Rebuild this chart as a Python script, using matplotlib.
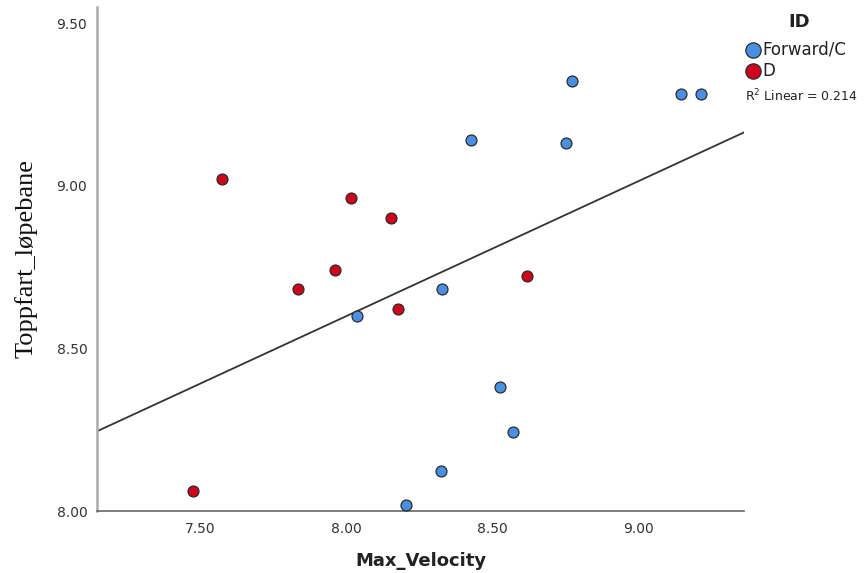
import matplotlib
matplotlib.use("Agg")
import matplotlib.pyplot as plt
import numpy as np

# Forward/C players
fwd_vel = [8.036, 8.203, 8.323, 8.326, 8.426, 8.525, 8.57, 8.752, 8.772, 9.145, 9.214]
fwd_top = [8.60, 8.02, 8.123, 8.683, 9.14, 8.38, 8.243, 9.132, 9.323, 9.283, 9.283]

# D players
d_vel = [7.474, 7.572, 7.833, 7.96, 8.015, 8.152, 8.175, 8.617]
d_top = [8.062, 9.022, 8.683, 8.742, 8.963, 8.90, 8.62, 8.723]

xticks = [7.5, 8.0, 8.5, 9.0]
yticks = [8.0, 8.5, 9.0, 9.5]

blue = '#4a90e2'
red = '#d0021b'

fig = plt.figure(figsize=(8.66, 5.73), dpi=100)
ax = fig.add_axes([0.112, 0.108, 0.747, 0.880])

ax.scatter(fwd_vel, fwd_top, s=62, c=blue, edgecolors='#2b2b2b', linewidths=0.9, zorder=3)
ax.scatter(d_vel, d_top, s=62, c=red, edgecolors='#2b2b2b', linewidths=0.9, zorder=3)

# linear fit on all points
allx = np.array(fwd_vel + d_vel)
ally = np.array(fwd_top + d_top)
k, m = np.polyfit(allx, ally, 1)
xl = np.array([7.145, 9.36])
ax.plot(xl, k * xl + m, color='#333333', lw=1.3, zorder=2)

ax.set_xlim(7.145, 9.36)
ax.set_ylim(8.0, 9.55)
ax.set_xticks(xticks)
ax.set_yticks(yticks)
ax.set_xticklabels(['%.2f' % v for v in xticks])
ax.set_yticklabels(['%.2f' % v for v in yticks])
ax.tick_params(axis='x', length=0, labelsize=10, colors='#333333', pad=8)
ax.tick_params(axis='y', length=0, labelsize=10, colors='#333333', pad=7)

for s in ['top', 'right']:
    ax.spines[s].set_visible(False)
ax.spines['left'].set_color('#aaaaaa')
ax.spines['left'].set_linewidth(1.8)
ax.spines['bottom'].set_color('#666666')
ax.spines['bottom'].set_linewidth(1.2)

ax.set_xlabel('Max_Velocity', fontsize=13, fontweight='bold', color='#222222', labelpad=11)
ax.set_ylabel('Toppfart_løpebane', fontsize=19, family='Liberation Serif', color='#111111', labelpad=14)

# legend built by hand
fig.text(799 / 866, 1 - 22 / 573, 'ID', fontsize=13, fontweight='bold', ha='center', va='center', color='#222222')
fig.lines.append(plt.Line2D([753 / 866], [1 - 50 / 573], marker='o', ms=11, mfc=blue, mec='#2b2b2b', mew=0.9,
                            transform=fig.transFigure, linestyle='none'))
fig.lines.append(plt.Line2D([753 / 866], [1 - 71 / 573], marker='o', ms=11, mfc=red, mec='#2b2b2b', mew=0.9,
                            transform=fig.transFigure, linestyle='none'))
fig.text(762 / 866, 1 - 50 / 573, 'Forward/C', fontsize=12, ha='left', va='center', color='#222222')
fig.text(762 / 866, 1 - 71 / 573, 'D', fontsize=12, ha='left', va='center', color='#222222')
fig.text(745 / 866, 1 - 96 / 573, 'R$^2$ Linear = 0.214', fontsize=9, ha='left', va='center', color='#222222')

fig.savefig('out.png', dpi=100)
